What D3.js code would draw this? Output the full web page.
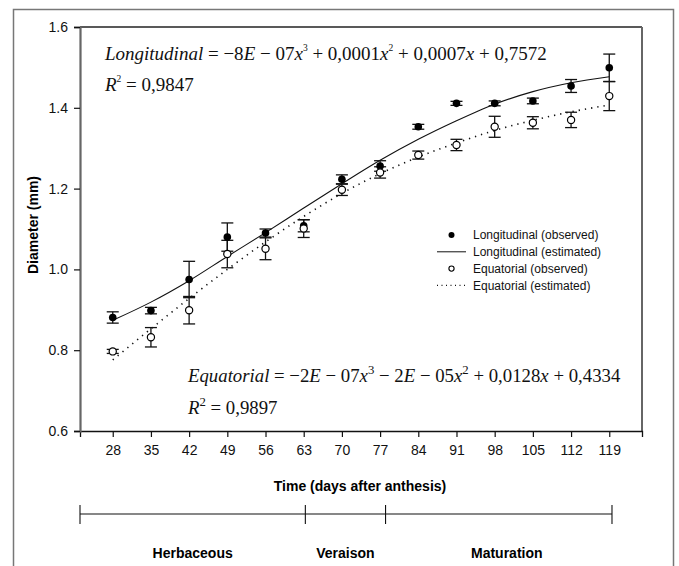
<!DOCTYPE html>
<html><head><meta charset="utf-8">
<script src="https://cdn.jsdelivr.net/npm/d3@7"></script>
<style>
html,body{margin:0;padding:0;background:#fff;}
svg{display:block;}
</style></head>
<body>
<svg id="chart" width="679" height="566"></svg>
<script>
// ---- data ----
const days = [28, 35, 42, 49, 56, 63, 70, 77, 84, 91, 98, 105, 112, 119];
const longObs = [0.881, 0.898, 0.975, 1.080, 1.090, 1.108, 1.223, 1.256, 1.353, 1.411, 1.411, 1.417, 1.454, 1.499];
const longErr = [0.014, 0.008, 0.045, 0.035, 0.010, 0.015, 0.011, 0.013, 0.006, 0.005, 0.006, 0.007, 0.016, 0.034];
const eqObs = [0.797, 0.832, 0.899, 1.038, 1.051, 1.101, 1.197, 1.240, 1.283, 1.308, 1.353, 1.363, 1.370, 1.429];
const eqErr = [0.005, 0.024, 0.034, 0.034, 0.027, 0.022, 0.014, 0.014, 0.010, 0.014, 0.026, 0.015, 0.019, 0.036];
const longEst = [0.874, 0.919, 0.972, 1.032, 1.091, 1.152, 1.212, 1.270, 1.322, 1.368, 1.409, 1.440, 1.462, 1.477];
const eqEst = [0.776, 0.853, 0.928, 1.000, 1.068, 1.131, 1.188, 1.237, 1.278, 1.313, 1.344, 1.369, 1.390, 1.407];
const yTicks = [0.6, 0.8, 1.0, 1.2, 1.4, 1.6];
const phaseNames = ["Herbaceous", "Veraison", "Maturation"];
const phaseBounds = [22, 63.3, 78, 119.5];
const legendLabels = ["Longitudinal (observed)", "Longitudinal (estimated)", "Equatorial (observed)", "Equatorial (estimated)"];
const eqLong = [["Longitudinal","i"],[" = −8","n"],["E","i"],[" − 07","n"],["x","i"],["3","s"],[" + 0,0001","n"],["x","i"],["2","s"],[" + 0,0007","n"],["x","i"],[" + 0,7572","n"]];
const r2Long = [["R","i"],["2","s"],[" = 0,9847","n"]];
const eqEqua = [["Equatorial","i"],[" = −2","n"],["E","i"],[" − 07","n"],["x","i"],["3","S"],[" − 2","n"],["E","i"],[" − 05","n"],["x","i"],["2","S"],[" + 0,0128","n"],["x","i"],[" + 0,4334","n"]];
const r2Equa = [["R","i"],["2","S"],[" = 0,9897","n"]];

// ---- layout ----
const svg = d3.select("#chart");
const L = 80, R = 642, T = 27, B = 431;
const x = d3.scaleLinear().domain([22, 125]).range([L, R]);
const y = d3.scaleLinear().domain([0.6, 1.6]).range([B, T]);
const sans = "'Liberation Sans', Arial, Helvetica, sans-serif";
const serif = "'Liberation Serif', 'Times New Roman', serif";

// outer frame
svg.append("rect").attr("x", 13.5).attr("y", 9.5).attr("width", 660).attr("height", 570)
  .attr("fill", "none").attr("stroke", "#777").attr("stroke-width", 1.5);

// plot box top/right
svg.append("line").attr("x1", L).attr("x2", R).attr("y1", T).attr("y2", T).attr("stroke", "#222").attr("stroke-width", 1.3);
svg.append("line").attr("x1", R).attr("x2", R).attr("y1", T).attr("y2", B).attr("stroke", "#666").attr("stroke-width", 2);

// axes
const xAxis = svg.append("g").attr("transform", `translate(0,${B})`)
  .call(d3.axisBottom(x).tickValues(days).tickFormat(d3.format("d")).tickSize(6).tickPadding(8));
xAxis.select(".domain").attr("stroke", "#111").attr("stroke-width", 1.3);
xAxis.selectAll(".tick line").attr("stroke", "#111").attr("stroke-width", 1.2);
xAxis.selectAll("text").attr("font-family", sans).attr("font-size", 14).attr("fill", "#111");

const yAxis = svg.append("g").attr("transform", `translate(${L},0)`)
  .call(d3.axisLeft(y).tickValues(yTicks).tickFormat(d3.format(".1f")).tickSize(6).tickPadding(6));
yAxis.select(".domain").attr("stroke", "#666").attr("stroke-width", 2.2);
yAxis.selectAll(".tick line").attr("stroke", "#111").attr("stroke-width", 1.2);
yAxis.selectAll("text").attr("font-family", sans).attr("font-size", 14).attr("fill", "#111");

// axis titles
svg.append("text").attr("transform", `translate(38,${(T + B) / 2 - 4}) rotate(-90)`)
  .attr("text-anchor", "middle").attr("font-family", sans).attr("font-weight", "bold").attr("font-size", 14)
  .text("Diameter (mm)");
svg.append("text").attr("x", 360).attr("y", 491).attr("text-anchor", "middle")
  .attr("font-family", sans).attr("font-weight", "bold").attr("font-size", 14)
  .text("Time (days after anthesis)");

// phase bracket
const py = 514;
svg.append("line").attr("x1", x(phaseBounds[0])).attr("x2", x(phaseBounds[phaseBounds.length - 1]))
  .attr("y1", py).attr("y2", py).attr("stroke", "#111").attr("stroke-width", 1.1);
svg.selectAll(".pb").data(phaseBounds).join("line")
  .attr("x1", d => x(d)).attr("x2", d => x(d)).attr("y1", py - 9).attr("y2", py + 10)
  .attr("stroke", "#111").attr("stroke-width", 1.1);
const phaseShift = [0, 0, 8];
svg.selectAll(".pn").data(phaseNames).join("text")
  .attr("x", (d, i) => (x(phaseBounds[i]) + x(phaseBounds[i + 1])) / 2 + phaseShift[i])
  .attr("y", 558).attr("text-anchor", "middle")
  .attr("font-family", sans).attr("font-weight", "bold").attr("font-size", 14).text(d => d);

// estimated curves
const line = d3.line().x((d, i) => x(days[i])).y(d => y(d)).curve(d3.curveMonotoneX);
svg.append("path").attr("d", line(longEst)).attr("fill", "none").attr("stroke", "#111").attr("stroke-width", 1.1);
svg.append("path").attr("d", line(eqEst)).attr("fill", "none").attr("stroke", "#111").attr("stroke-width", 1.6)
  .attr("stroke-dasharray", "1.3,5").attr("stroke-linecap", "butt");

// error bars
function errBars(vals, errs) {
  const g = svg.append("g").attr("stroke", "#111").attr("stroke-width", 1.3);
  days.forEach((d, i) => {
    const cx = x(d), y1 = y(vals[i] + errs[i]), y2 = y(vals[i] - errs[i]);
    g.append("line").attr("x1", cx).attr("x2", cx).attr("y1", y1).attr("y2", y2);
    g.append("line").attr("x1", cx - 6).attr("x2", cx + 6).attr("y1", y1).attr("y2", y1);
    g.append("line").attr("x1", cx - 6).attr("x2", cx + 6).attr("y1", y2).attr("y2", y2);
  });
}
errBars(longObs, longErr);
errBars(eqObs, eqErr);

// points
svg.selectAll(".lo").data(longObs).join("circle")
  .attr("cx", (d, i) => x(days[i])).attr("cy", d => y(d)).attr("r", 3.8).attr("fill", "#000");
svg.selectAll(".eo").data(eqObs).join("circle")
  .attr("cx", (d, i) => x(days[i])).attr("cy", d => y(d)).attr("r", 3.6)
  .attr("fill", "#fff").attr("stroke", "#000").attr("stroke-width", 1.2);

// equations
function eqText(parts, px, py, size) {
  const t = svg.append("text").attr("x", px).attr("y", py).attr("font-family", serif).attr("font-size", size).attr("fill", "#111");
  let shifted = false;
  parts.forEach(([s, k]) => {
    const sp = t.append("tspan").text(s);
    if (k === "i") sp.attr("font-style", "italic");
    if (k === "s" || k === "S") {
      const fs = k === "s" ? size * 0.5 : size * 0.68;
      const up = k === "s" ? size * 0.5 : size * 0.42;
      sp.attr("font-size", fs).attr("dy", -up);
      shifted = up;
    } else if (shifted) {
      sp.attr("dy", shifted);
      shifted = false;
    }
  });
}
eqText(eqLong, 105, 60, 19);
eqText(r2Long, 105, 91, 19);
eqText(eqEqua, 188, 382, 18.8);
eqText(r2Equa, 188, 414, 18.8);

// legend
const lx = 437, lx2 = 466, tx = 473, ly0 = 235, ldy = 16.8;
const lg = svg.append("g");
lg.append("circle").attr("cx", (lx + lx2) / 2).attr("cy", ly0).attr("r", 3).attr("fill", "#000");
lg.append("line").attr("x1", lx).attr("x2", lx2).attr("y1", ly0 + ldy).attr("y2", ly0 + ldy).attr("stroke", "#111").attr("stroke-width", 1);
lg.append("circle").attr("cx", (lx + lx2) / 2).attr("cy", ly0 + 2 * ldy).attr("r", 2.6).attr("fill", "#fff").attr("stroke", "#000").attr("stroke-width", 1.1);
lg.append("line").attr("x1", lx).attr("x2", lx2).attr("y1", ly0 + 3 * ldy).attr("y2", ly0 + 3 * ldy).attr("stroke", "#111")
  .attr("stroke-width", 1.3).attr("stroke-dasharray", "1,3.5");
lg.selectAll("text").data(legendLabels).join("text")
  .attr("x", tx).attr("y", (d, i) => ly0 + i * ldy).attr("dy", "0.35em")
  .attr("font-family", sans).attr("font-size", 12).attr("fill", "#111").text(d => d);
</script>
</body></html>
